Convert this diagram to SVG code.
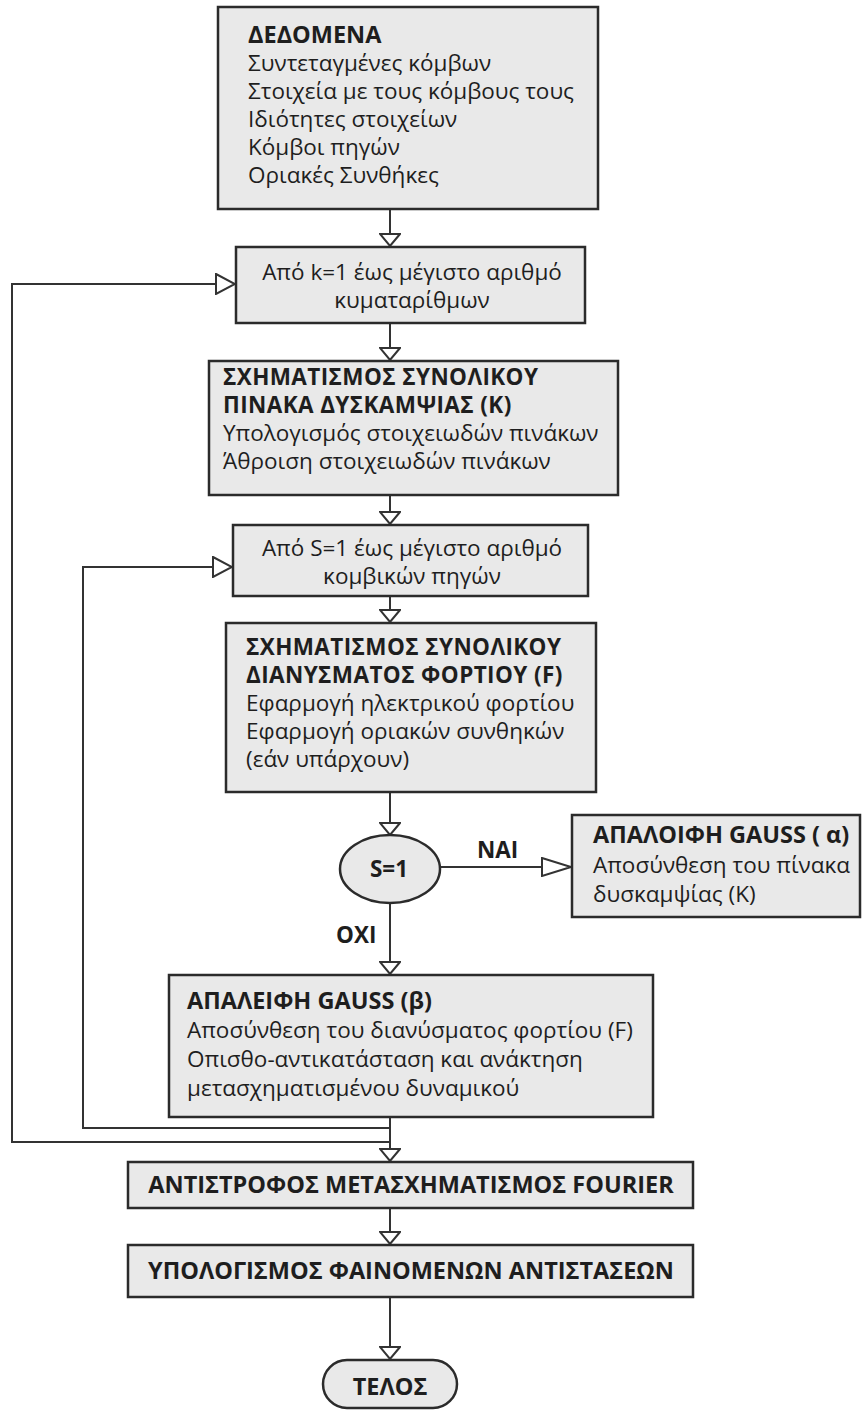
<svg xmlns="http://www.w3.org/2000/svg" width="862" height="1410" viewBox="0 0 862 1410">
<defs>
<style>
.box{fill:#e9e9e9;stroke:#2b2b2b;stroke-width:2.5}
.t{font-family:"Open Sans","Noto Sans",sans-serif;font-size:22.5px;fill:#1e1e1e}
.b{font-weight:bold;font-size:23.5px}
.s{font-size:22.5px}
.h2{font-size:22.5px;letter-spacing:0.4px}
.c{text-anchor:middle}
.ln{fill:none;stroke:#333;stroke-width:2}
</style>
<marker id="av" markerUnits="userSpaceOnUse" viewBox="-1 -1 14 22" refX="12" refY="10" markerWidth="14" markerHeight="22" orient="auto">
<path d="M0,0 L12,10 L0,20 Z" fill="#fff" stroke="#333" stroke-width="2"/>
</marker>
<marker id="al" markerUnits="userSpaceOnUse" viewBox="-1 -1 21 22" refX="19" refY="10" markerWidth="21" markerHeight="22" orient="auto">
<path d="M0,0 L19,10 L0,20 Z" fill="#fff" stroke="#333" stroke-width="2"/>
</marker>
<marker id="an" markerUnits="userSpaceOnUse" viewBox="-1 -1 31 20" refX="29" refY="9" markerWidth="31" markerHeight="20" orient="auto">
<path d="M0,0 L29,9 L0,18 Z" fill="#fff" stroke="#333" stroke-width="2"/>
</marker>
</defs>
<rect width="862" height="1410" fill="#fff"/>

<g id="connectors">
<line class="ln" x1="390" y1="209" x2="390" y2="246" marker-end="url(#av)"/>
<line class="ln" x1="390" y1="323" x2="390" y2="360" marker-end="url(#av)"/>
<line class="ln" x1="390" y1="495" x2="390" y2="524" marker-end="url(#av)"/>
<line class="ln" x1="390" y1="596" x2="390" y2="622" marker-end="url(#av)"/>
<line class="ln" x1="390" y1="792" x2="390" y2="835" marker-end="url(#av)"/>
<line class="ln" x1="390" y1="903" x2="390" y2="974" marker-end="url(#av)"/>
<line class="ln" x1="440" y1="867" x2="571" y2="867" marker-end="url(#an)"/>
<line class="ln" x1="390" y1="1117" x2="390" y2="1161" marker-end="url(#av)"/>
<line class="ln" x1="390" y1="1208" x2="390" y2="1244" marker-end="url(#av)"/>
<line class="ln" x1="390" y1="1297" x2="390" y2="1359" marker-end="url(#av)"/>
<polyline class="ln" points="390,1142 12,1142 12,284 235,284" marker-end="url(#al)"/>
<polyline class="ln" points="390,1128 83,1128 83,567 232,567" marker-end="url(#al)"/>
<text class="t b s" x="477" y="858">ΝΑΙ</text>
<text class="t b s" x="336" y="943">ΟΧΙ</text>
</g>

<g id="n-dedomena">
<rect class="box" x="218" y="7" width="380" height="202"/>
<text class="t b" x="248" y="43">ΔΕΔΟΜΕΝΑ</text>
<text class="t" x="248" y="71">Συντεταγμένες κόμβων</text>
<text class="t" x="248" y="99">Στοιχεία με τους κόμβους τους</text>
<text class="t" x="248" y="127">Ιδιότητες στοιχείων</text>
<text class="t" x="248" y="155">Κόμβοι πηγών</text>
<text class="t" x="248" y="183">Οριακές Συνθήκες</text>
</g>

<g id="n-loop-k">
<rect class="box" x="236" y="247" width="349" height="76"/>
<text class="t c" x="412" y="280">Από k=1 έως μέγιστο αριθμό</text>
<text class="t c" x="412" y="308">κυματαρίθμων</text>
</g>

<g id="n-stiffness">
<rect class="box" x="209" y="361" width="409" height="134"/>
<text class="t b h2" x="223" y="385">ΣΧΗΜΑΤΙΣΜΟΣ ΣΥΝΟΛΙΚΟΥ</text>
<text class="t b h2" x="223" y="413">ΠΙΝΑΚΑ ΔΥΣΚΑΜΨΙΑΣ (Κ)</text>
<text class="t" x="223" y="441">Υπολογισμός στοιχειωδών πινάκων</text>
<text class="t" x="223" y="469">Άθροιση στοιχειωδών πινάκων</text>
</g>

<g id="n-loop-s">
<rect class="box" x="233" y="525" width="355" height="71"/>
<text class="t c" x="412" y="556">Από S=1 έως μέγιστο αριθμό</text>
<text class="t c" x="412" y="584">κομβικών πηγών</text>
</g>

<g id="n-load">
<rect class="box" x="226" y="623" width="370" height="169"/>
<text class="t b h2" x="246" y="655">ΣΧΗΜΑΤΙΣΜΟΣ ΣΥΝΟΛΙΚΟΥ</text>
<text class="t b h2" x="246" y="683">ΔΙΑΝΥΣΜΑΤΟΣ ΦΟΡΤΙΟΥ (F)</text>
<text class="t" x="246" y="711">Εφαρμογή ηλεκτρικού φορτίου</text>
<text class="t" x="246" y="739">Εφαρμογή οριακών συνθηκών</text>
<text class="t" x="246" y="767">(εάν υπάρχουν)</text>
</g>

<g id="n-decision">
<ellipse class="box" cx="390" cy="869" rx="50" ry="34"/>
<text class="t b s c" x="389" y="877">S=1</text>
</g>

<g id="n-gauss-a">
<rect class="box" x="572" y="815" width="288" height="102"/>
<text class="t b" x="593" y="843">ΑΠΑΛΟΙΦΗ GAUSS ( α)</text>
<text class="t" x="593" y="873">Αποσύνθεση του πίνακα</text>
<text class="t" x="593" y="902">δυσκαμψίας (Κ)</text>
</g>

<g id="n-gauss-b">
<rect class="box" x="169" y="975" width="484" height="142"/>
<text class="t b" x="187" y="1009">ΑΠΑΛΕΙΦΗ GAUSS (β)</text>
<text class="t" x="187" y="1038">Αποσύνθεση του διανύσματος φορτίου (F)</text>
<text class="t" x="187" y="1067">Οπισθο-αντικατάσταση και ανάκτηση</text>
<text class="t" x="187" y="1096">μετασχηματισμένου δυναμικού</text>
</g>

<g id="n-fourier">
<rect class="box" x="128" y="1162" width="565" height="46"/>
<text class="t b c" x="411" y="1193">ΑΝΤΙΣΤΡΟΦΟΣ ΜΕΤΑΣΧΗΜΑΤΙΣΜΟΣ FOURIER</text>
</g>

<g id="n-resist">
<rect class="box" x="128" y="1245" width="565" height="52"/>
<text class="t b c" x="411" y="1279">ΥΠΟΛΟΓΙΣΜΟΣ ΦΑΙΝΟΜΕΝΩΝ ΑΝΤΙΣΤΑΣΕΩΝ</text>
</g>

<g id="n-end">
<rect class="box" x="323" y="1360" width="134" height="48" rx="24"/>
<text class="t b c" x="390" y="1395">ΤΕΛΟΣ</text>
</g>
</svg>
